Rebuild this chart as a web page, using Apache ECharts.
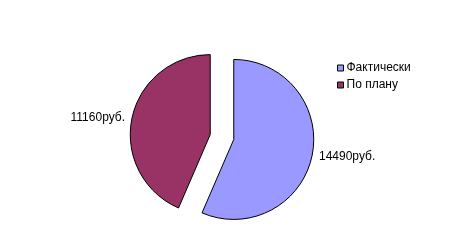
<!DOCTYPE html>
<html><head><meta charset="utf-8">
<script src="https://cdn.jsdelivr.net/npm/echarts@6/dist/echarts.min.js"></script>
<style>html,body{margin:0;padding:0;background:#fff}#c{width:453px;height:246px}</style>
</head><body><div id="c"></div>
<script>
const categories = ['Фактически', 'По плану'];
const values = [14490, 11160];
const unit = 'руб.';
const colors = ['#9999FF', '#993366'];

const chart = echarts.init(document.getElementById('c'), null, {renderer: 'canvas'});
chart.setOption({
  animation: false,
  legend: {
    orient: 'vertical', left: 332, top: 57,
    itemWidth: 6, itemHeight: 6, itemGap: 5,
    icon: 'rect',
    itemStyle: {borderColor: '#000', borderWidth: 1},
    textStyle: {fontFamily: 'Liberation Sans', fontSize: 12, color: '#000', padding: [0,0,0,-2]},
    selectedMode: false,
    data: categories
  },
  series: [{
    type: 'pie',
    center: [222, 137],
    radius: 80,
    startAngle: 90,
    clockwise: true,
    selectedMode: 'multiple',
    selectedOffset: 12,
    avoidLabelOverlap: false,
    itemStyle: {borderColor: '#000', borderWidth: 1},
    emphasis: {disabled: true},
    label: {
      show: true, position: 'outside',
      fontFamily: 'Liberation Sans', fontSize: 12, color: '#000',
      distanceToLabelLine: 2,
      formatter: p => p.value + unit
    },
    labelLine: {show: false, length: 5, length2: 0},
    data: categories.map((n, i) => ({name: n, value: values[i], selected: true, itemStyle: {color: colors[i]}}))
  }]
});
</script></body></html>
